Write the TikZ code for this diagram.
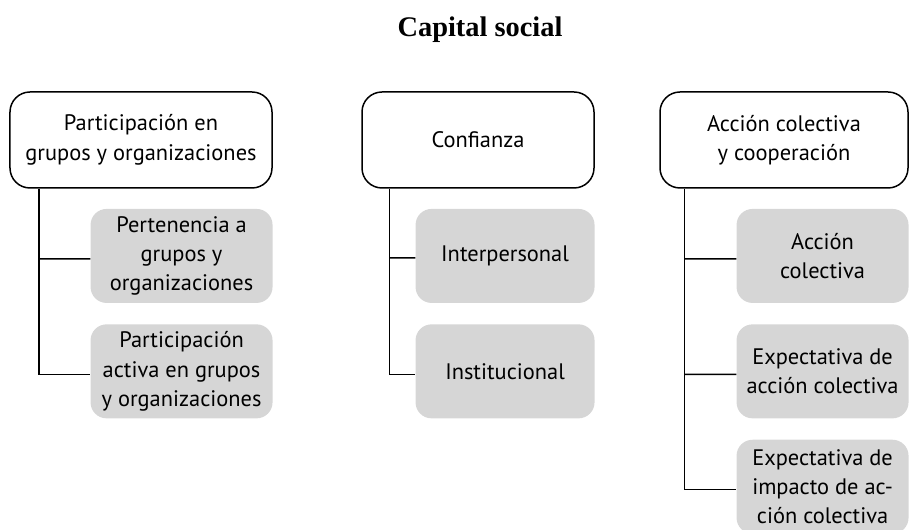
\documentclass[tikz,border=0pt]{standalone}
\usepackage{fontspec}
\setmainfont{PT Sans}
\newfontfamily\titlefont{Liberation Serif}
\usetikzlibrary{positioning}

\begin{document}
\begin{tikzpicture}[
    x=1bp, y=1bp,
    every node/.style={font=\fontsize{22.5}{29.5}\selectfont},
    topic/.style={rectangle, draw=black, line width=1.5bp, rounded corners=20bp, fill=white, minimum height=96bp, align=center, inner sep=0pt},
    subtopic/.style={rectangle, fill=black!16, rounded corners=16bp, minimum height=94bp, align=center, inner sep=0pt},
    branch/.style={line width=1.5bp}
]
\useasboundingbox (0,0) rectangle (910,530);

% Title
\node (title) at (480,500) {\titlefont\fontsize{28.5}{32}\selectfont\bfseries Capital social};

% Main dimensions
\node (t1) [topic, minimum width=262bp] at (141,390) {Participación en\\grupos y organizaciones};
\node (t2) [topic, minimum width=232bp] at (478,390) {Confianza};
\node (t3) [topic, minimum width=248bp] at (784,390) {Acción colectiva\\y cooperación};

% Participación
\node (p1) [subtopic, minimum width=182bp, below left=20bp and 0pt of t1.south east] {Pertenencia a\\grupos y\\organizaciones};
\node (p2) [subtopic, minimum width=182bp, below=21bp of p1] {Participación\\activa en grupos\\y organizaciones};

% Confianza
\node (c1) [subtopic, minimum width=179bp, below left=20bp and 0pt of t2.south east] {Interpersonal};
\node (c2) [subtopic, minimum width=179bp, below=21bp of c1] {Institucional};

% Acción colectiva
\node (a1) [subtopic, minimum width=172bp, below left=20bp and 0pt of t3.south east] {Acción\\colectiva};
\node (a2) [subtopic, minimum width=172bp, below=21bp of a1] {Expectativa de\\acción colectiva};
\node (a3) [subtopic, minimum width=172bp, below=21bp of a2] {Expectativa de\\impacto de ac-\\ción colectiva};

% Branches
\coordinate (b1) at ([xshift=30bp]t1.south west);
\coordinate (b2) at ([xshift=28bp]t2.south west);
\coordinate (b3) at ([xshift=25bp]t3.south west);
\draw [branch] (b1) |- ([yshift=-3bp]p2.west);
\draw [branch] (b1 |- p1.west) ++(0,-3) -- ([yshift=-3bp]p1.west);
\draw [branch] (b2) |- ([yshift=-3bp]c2.west);
\draw [branch] (b2 |- c1.west) ++(0,-2) -- ([yshift=-2bp]c1.west);
\draw [branch] (b3) |- ([yshift=-3bp]a3.west);
\draw [branch] (b3 |- a1.west) ++(0,-3) -- ([yshift=-3bp]a1.west);
\draw [branch] (b3 |- a2.west) ++(0,-3) -- ([yshift=-3bp]a2.west);

\end{tikzpicture}
\end{document}
